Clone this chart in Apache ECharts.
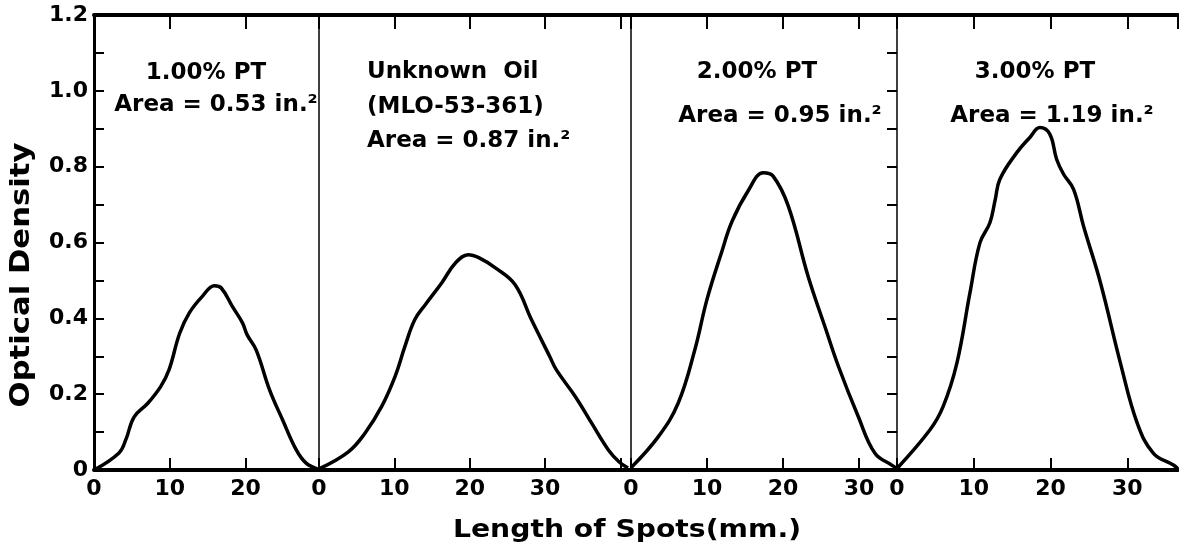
<!DOCTYPE html>
<html>
<head>
<meta charset="utf-8">
<script src="https://cdn.jsdelivr.net/npm/echarts@6/dist/echarts.min.js"></script>
<style>
html, body { margin: 0; padding: 0; background: #fff; }
#chart { width: 1179px; height: 546px; }
</style>
</head>
<body>
<div id="chart"></div>
<script>
// densitometer traces, [length mm, optical density]
var pt100 = [[0, 0], [3.3, 0.045], [4.2, 0.08], [5.3, 0.14], [7.1, 0.176], [8.8, 0.22], [9.9, 0.264],
    [11.3, 0.36], [12.6, 0.415], [14.3, 0.458], [15.9, 0.486], [16.8, 0.48], [18.3, 0.43], [19.6, 0.388],
    [20.2, 0.357], [21.4, 0.317], [23.2, 0.21], [24.9, 0.132], [26.7, 0.053], [28.0, 0.018], [29.5, 0.003]];
var unknownOil = [[0, 0.003], [3.9, 0.048], [6.1, 0.097], [8.3, 0.167], [10.1, 0.247], [11.4, 0.326],
    [12.7, 0.396], [14.1, 0.436], [16.3, 0.494], [18.1, 0.546], [19.8, 0.568], [21.2, 0.56], [23.4, 0.533],
    [26.0, 0.489], [28.2, 0.396], [30.6, 0.3], [31.5, 0.264], [34.0, 0.194], [36.2, 0.123], [38.4, 0.053],
    [39.8, 0.022], [41.0, 0.005]];
var pt200 = [[0, 0.006], [3.6, 0.088], [6.2, 0.176], [8.4, 0.317], [10.0, 0.45], [11.9, 0.573], [13.3, 0.656],
    [15.4, 0.736], [17.4, 0.784], [18.7, 0.775], [20.7, 0.696], [23.3, 0.511], [25.5, 0.379], [27.3, 0.273],
    [29.9, 0.141], [32.1, 0.044], [34.3, 0.013], [35.0, 0.004]];
var pt300 = [[0, 0.004], [4.3, 0.106], [6.0, 0.167], [7.8, 0.282], [9.5, 0.467], [10.8, 0.599], [12.1, 0.652],
    [12.8, 0.714], [13.4, 0.767], [15.6, 0.837], [17.3, 0.877], [18.6, 0.903], [19.9, 0.886], [20.8, 0.819],
    [21.7, 0.78], [23.0, 0.74], [24.3, 0.643], [26.5, 0.494], [29.1, 0.282], [31.3, 0.123], [33.4, 0.044],
    [36.0, 0.013], [36.6, 0.003]];

var traces = [pt100, unknownOil, pt200, pt300];
var panelLengths = [29.7, 41.4, 35.0, 36.6];   // mm shown in each panel
var xTickLabels = ['0', '10', '20', '30'];
var notes = [
    ['1.00% PT', 'Area = 0.53 in.²'],
    ['Unknown  Oil', '(MLO-53-361)', 'Area = 0.87 in.²'],
    ['2.00% PT', 'Area = 0.95 in.²'],
    ['3.00% PT', 'Area = 1.19 in.²']
];
var yTitle = 'Optical Density';
var xTitle = 'Length of Spots(mm.)';

var font = 'DejaVu Sans';
var edges = [94, 319, 631, 897, 1178];

var myChart = echarts.init(document.getElementById('chart'));

var grids = [], xAxes = [], yAxes = [], series = [];
for (var i = 0; i < 4; i++) {
    grids.push({left: edges[i], top: 15, width: edges[i + 1] - edges[i], height: 455});
}
// bottom axes
for (var i = 0; i < 4; i++) {
    xAxes.push({
        type: 'value', gridIndex: i, position: 'bottom', min: 0, max: panelLengths[i], interval: 10,
        axisLine: {onZero: false, lineStyle: {color: '#000', width: 4}},
        axisTick: {inside: true, length: 12, lineStyle: {color: '#000', width: 2}},
        axisLabel: {
            color: '#000', fontFamily: font, fontWeight: 'bold', fontSize: 22, margin: 8,
            showMaxLabel: false,
            formatter: function (v) {
                return xTickLabels.indexOf(String(v)) >= 0 ? String(v) : '';
            }
        },
        splitLine: {show: false}
    });
}
// top border with ticks
for (var i = 0; i < 4; i++) {
    xAxes.push({
        type: 'value', gridIndex: i, position: 'top', min: 0, max: panelLengths[i], interval: 10,
        axisLine: {onZero: false, lineStyle: {color: '#000', width: 4}},
        axisTick: {inside: true, length: 14, lineStyle: {color: '#000', width: 2}},
        axisLabel: {show: false},
        splitLine: {show: false}
    });
}
yAxes.push({
    type: 'value', gridIndex: 0, min: 0, max: 1.2, interval: 0.1,
    axisLine: {show: true, lineStyle: {color: '#000', width: 3}},
    axisTick: {inside: true, length: 10, lineStyle: {color: '#000', width: 2}},
    axisLabel: {
        color: '#000', fontFamily: font, fontWeight: 'bold', fontSize: 22, margin: 6,
        formatter: function (v) {
            var k = Math.round(v * 10);
            if (k % 2) return '';
            return k === 0 ? '0' : (k / 10).toFixed(1);
        }
    },
    splitLine: {show: false}
});
// thin dividers between panels
for (var i = 1; i < 4; i++) {
    yAxes.push({
        type: 'value', gridIndex: i, min: 0, max: 1.2,
        axisLine: {show: true, lineStyle: {color: '#000', width: 1.5}},
        axisTick: {show: false}, axisLabel: {show: false}, splitLine: {show: false}
    });
}
// right edge: ticks only
yAxes.push({
    type: 'value', gridIndex: 3, position: 'right', min: 0, max: 1.2, interval: 0.1,
    axisLine: {show: false},
    axisTick: {show: true, inside: true, length: 10, lineStyle: {color: '#000', width: 2}},
    axisLabel: {show: false}, splitLine: {show: false}
});

for (var i = 0; i < 4; i++) {
    series.push({
        type: 'line', xAxisIndex: i, yAxisIndex: i, data: traces[i],
        smooth: 0.4, showSymbol: false, symbol: 'none',
        lineStyle: {color: '#000', width: 3.5}
    });
}

function txt(s, x, y, align, size, sx) {
    return {
        type: 'text', x: x, y: y, scaleX: sx || 1,
        style: {text: s, fill: '#000', font: 'bold ' + size + 'px "' + font + '"', align: align, verticalAlign: 'middle'}
    };
}

var graphics = [
    txt(notes[0][0], 206, 73, 'center', 23),
    txt(notes[0][1], 216, 105, 'center', 23),
    txt(notes[1][0], 367, 72, 'left', 23),
    txt(notes[1][1], 367, 107, 'left', 23),
    txt(notes[1][2], 367, 141, 'left', 23),
    txt(notes[2][0], 757, 72, 'center', 23),
    txt(notes[2][1], 780, 116, 'center', 23),
    txt(notes[3][0], 1035, 72, 'center', 23),
    txt(notes[3][1], 1052, 116, 'center', 23),
    txt(xTitle, 627, 530, 'center', 25, 1.13)
];
var yt = txt(yTitle, 22, 275, 'center', 26, 1.18);
yt.rotation = Math.PI / 2;
graphics.push(yt);

var option = {
    animation: false,
    backgroundColor: '#fff',
    grid: grids,
    xAxis: xAxes,
    yAxis: yAxes,
    series: series,
    graphic: graphics
};
myChart.setOption(option);
</script>
</body>
</html>
